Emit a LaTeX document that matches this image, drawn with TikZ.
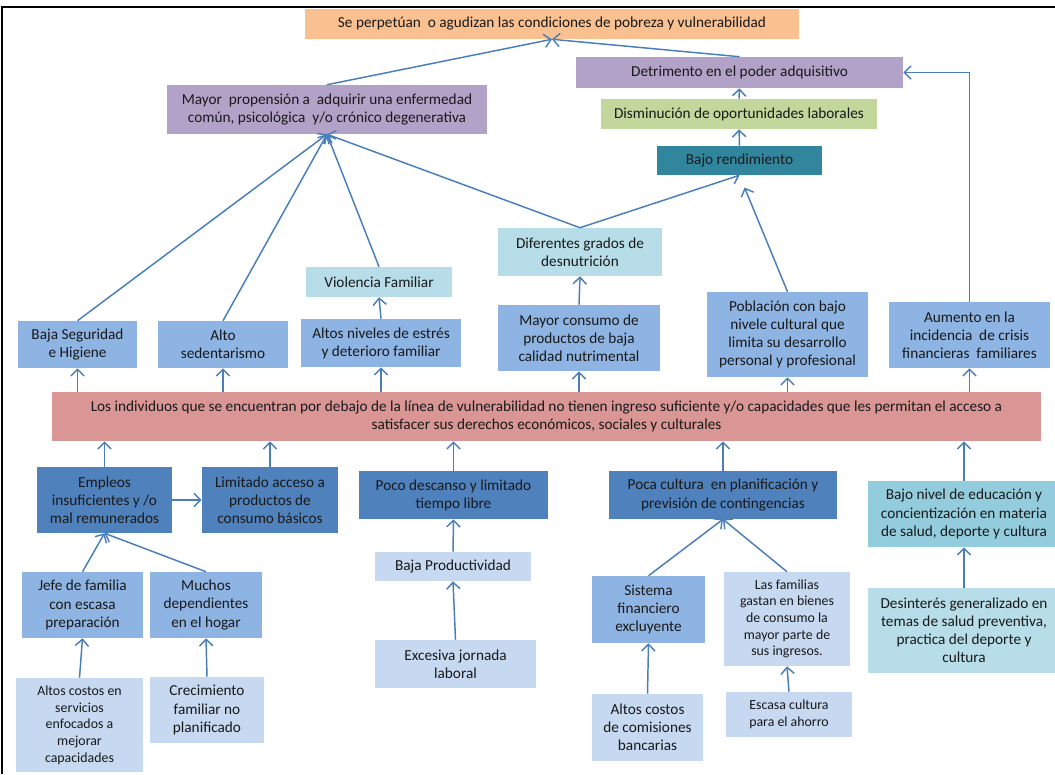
\documentclass[tikz,border=0pt]{standalone}
\usepackage{fontspec}
\setmainfont{Carlito}
\usetikzlibrary{arrows.meta,calc}
\definecolor{cOr}{HTML}{FAC090}
\definecolor{cPu}{HTML}{B3A2C7}
\definecolor{cGr}{HTML}{C3D69B}
\definecolor{cTe}{HTML}{31859C}
\definecolor{cLb}{HTML}{B7DEE8}
\definecolor{cAq}{HTML}{93CDDD}
\definecolor{cMb}{HTML}{8EB4E3}
\definecolor{cDb}{HTML}{4F81BD}
\definecolor{cPb}{HTML}{C6D9F1}
\definecolor{cRd}{HTML}{D99694}
\definecolor{lnc}{HTML}{4A7EBB}
\begin{document}
\begin{tikzpicture}[x=0.75pt,y=-0.75pt,
  box/.style={rectangle, inner sep=1pt, align=center, font=\fontsize{11.45}{13.6}\selectfont, text=black!90},
  sz/.style 2 args={minimum width=#1*0.75pt, minimum height=#2*0.75pt},
  small/.style={font=\fontsize{10.4}{12.5}\selectfont},
  arr/.style={draw=lnc, line width=1.1pt, -{Straight Barb[length=5pt,width=10pt]}},
]
\useasboundingbox (0,0) rectangle (1055,774);
\fill[white] (0,0) rectangle (1055,774);
\draw[line width=1.5pt] (2,774) -- (2,7) -- (1055,7);

% top part
\node[box, fill=cOr, sz={494}{30}] (top) at (552,24) {Se perpetúan\ \ o agudizan las condiciones de pobreza y vulnerabilidad};
\node[box, fill=cPu, sz={320}{49}] (mp) at (327,109.5) {Mayor\ \ propensión a\ \ adquirir una enfermedad\\común, psicológica\ \ y/o crónico degenerativa};
\node[box, fill=cPu, sz={327}{31}] (det) at (739.5,72.5) {Detrimento en el poder adquisitivo};
\node[box, fill=cGr, sz={276}{30}] (dis) at (739,114) {Disminución de oportunidades laborales};
\node[box, fill=cTe, sz={165}{29}] (br) at (739.5,160.5) {Bajo rendimiento};
\node[box, fill=cLb, sz={164}{48}] (dif) at (580,252) {Diferentes grados de\\desnutrición};
\node[box, fill=cLb, sz={146}{30}] (vf) at (379,282) {Violencia Familiar};

% row above banner
\node[box, fill=cMb, sz={119}{47}] (bs) at (77.5,344.5) {Baja Seguridad\\e Higiene};
\node[box, fill=cMb, sz={130}{47}] (as) at (223,344.5) {Alto\\sedentarismo};
\node[box, fill=cMb, sz={160}{48}] (an) at (381,343) {Altos niveles de estrés\\y deterioro familiar};
\node[box, fill=cMb, sz={162}{66}] (mc) at (579,338) {Mayor consumo de\\productos de baja\\calidad nutrimental};
\node[box, fill=cMb, sz={161}{85}] (pob) at (787.5,334.5) {Población con bajo\\nivele cultural que\\limita su desarrollo\\personal y profesional};
\node[box, fill=cMb, sz={161}{66}] (au) at (969.5,335) {Aumento en la\\incidencia\ \ de crisis\\financieras\ \ familiares};

% banner
\node[box, fill=cRd, sz={989}{49}] (ban) at (546.5,416.5) {Los individuos que se encuentran por debajo de la línea de vulnerabilidad no tienen ingreso suficiente y/o capacidades que les permitan el acceso a\\satisfacer sus derechos económicos, sociales y culturales};

% lower part
\node[box, fill=cDb, sz={135}{66}] (emp) at (104.5,500) {Empleos\\insuficientes y /o\\mal remunerados};
\node[box, fill=cDb, sz={136}{66}] (lim) at (270,500) {Limitado acceso a\\productos de\\consumo básicos};
\node[box, fill=cDb, sz={189}{48}] (pd) at (453.5,495) {Poco descanso y limitado\\tiempo libre};
\node[box, fill=cPb, sz={156}{29}] (bp) at (453,566.5) {Baja Productividad};
\node[box, fill=cPb, sz={161}{48}] (ex) at (455.5,664) {Excesiva jornada\\laboral};
\node[box, fill=cMb, sz={121}{66}] (jefe) at (82.5,605) {Jefe de familia\\con escasa\\preparación};
\node[box, fill=cMb, sz={112}{66}] (mu) at (206,605) {Muchos\\dependientes\\en el hogar};
\node[box, small, fill=cPb, sz={127}{94}] (acs) at (79.5,725) {Altos costos en\\servicios\\enfocados a\\mejorar\\capacidades};
\node[box, fill=cPb, sz={114}{66}] (cre) at (207,710) {Crecimiento\\familiar no\\planificado};
\node[box, fill=cDb, sz={228}{48}] (pc) at (723,495) {Poca cultura\ \ en planificación y\\previsión de contingencias};
\node[box, fill=cMb, sz={113}{67}] (sf) at (648.5,609.5) {Sistema\\financiero\\excluyente};
\node[box, small, fill=cPb, sz={126}{94}] (lf) at (787,619) {Las familias\\gastan en bienes\\de consumo la\\mayor parte de\\sus ingresos.};
\node[box, fill=cPb, sz={111}{67}] (acb) at (647.5,727.5) {Altos costos\\de comisiones\\bancarias};
\node[box, small, fill=cPb, sz={126}{45}] (esc) at (789,714.5) {Escasa cultura\\para el ahorro};
\node[box, fill=cAq, sz={192}{66}] (bn) at (964,514) {Bajo nivel de educación y\\concientización en materia\\de salud, deporte y cultura};
\node[box, fill=cLb, sz={192}{85}] (des) at (964,630.5) {Desinterés generalizado en\\temas de salud preventiva,\\practica del deporte y\\cultura};

% connectors top
\draw[arr] (mp.north) -- (top.south);
\draw[arr] (det.north) -- (top.south);
\draw[arr] (dis.north) -- (det.south);
\draw[arr] (br.north) -- (dis.south);
\draw[arr] (dif.north) -- (br.south);
\draw[arr, shorten >=10pt] (pob.north) -- (br.south);
\draw[arr] (au.north) |- (det.east);
\draw[arr] (bs.north) -- (mp.south);
\draw[arr] (as.north) -- (mp.south);
\draw[arr] (vf.north) -- (mp.south);
\draw[arr] (dif.north) -- (mp.south);
\draw[arr] (an.north) -- (vf.south);
\draw[arr] (mc.north) -- (dif.south);

% banner to upper row
\draw[arr] (bs.south |- ban.north) -- (bs.south);
\draw[arr] (as.south |- ban.north) -- (as.south);
\draw[arr] (an.south |- ban.north) -- (an.south);
\draw[arr] (mc.south |- ban.north) -- (mc.south);
\draw[arr] (pob.south |- ban.north) -- (pob.south);
\draw[arr] (au.south |- ban.north) -- (au.south);

% lower row to banner
\draw[arr] (emp.north) -- (emp.north |- ban.south);
\draw[arr] (lim.north) -- (lim.north |- ban.south);
\draw[arr] (pd.north) -- (pd.north |- ban.south);
\draw[arr] (pc.north) -- (pc.north |- ban.south);
\draw[arr] (bn.north) -- (bn.north |- ban.south);

% lower connectors
\draw[arr] (emp.east) -- (lim.west);
\draw[arr] (jefe.north) -- (emp.south);
\draw[arr] (mu.north) -- (emp.south);
\draw[arr] (acs.north) -- (jefe.south);
\draw[arr] (cre.north) -- (mu.south);
\draw[arr] (bp.north) -- (pd.south);
\draw[arr] (ex.north) -- (bp.south);
\draw[arr] (sf.north) -- (pc.south);
\draw[arr] (lf.north) -- (pc.south);
\draw[arr] (acb.north) -- (sf.south);
\draw[arr] (esc.north) -- (lf.south);
\draw[arr] (des.north) -- (bn.south);
\end{tikzpicture}
\end{document}
